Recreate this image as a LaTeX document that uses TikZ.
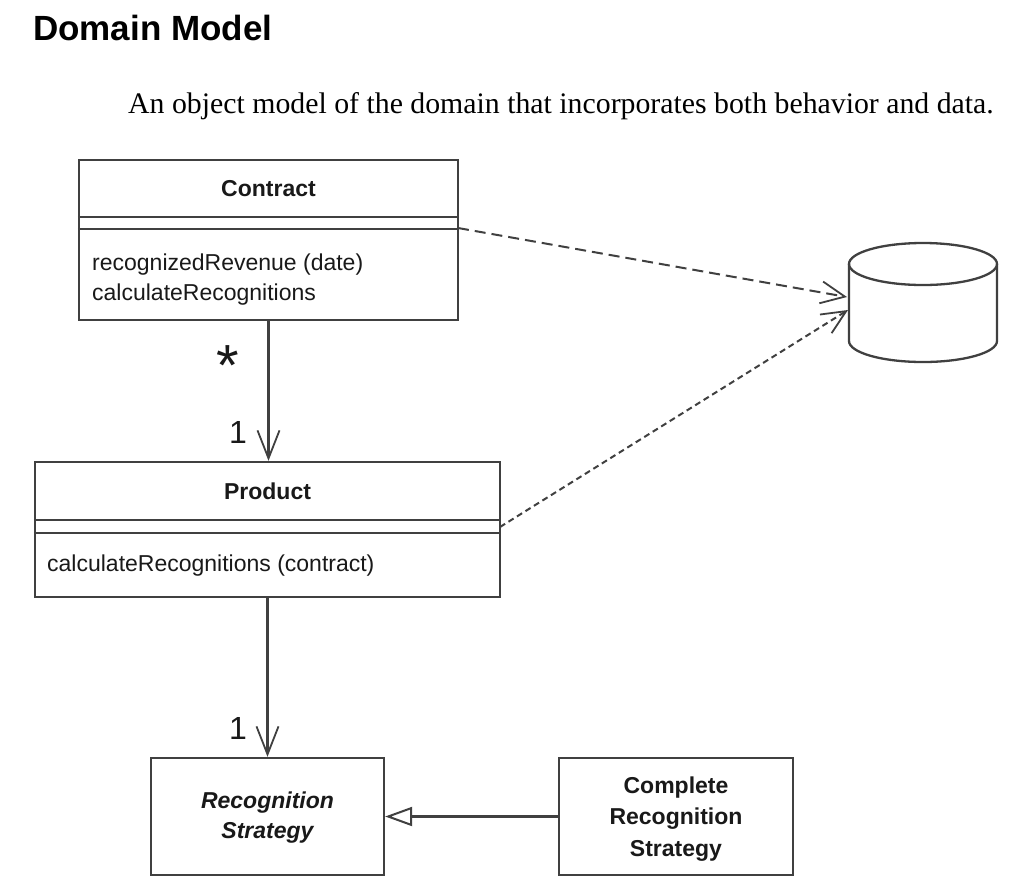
\documentclass[tikz,border=0pt]{standalone}
\usepackage{fontspec}
\setmainfont{Liberation Serif}
\setsansfont{Liberation Sans}
\usetikzlibrary{arrows.meta}
\begin{document}
\begin{tikzpicture}[x=1pt,y=-1pt,
  umlline/.style={draw=black!75,line width=2.3pt},
  classbox/.style={umlline,rectangle,inner sep=0pt,fill=white},
  uml/.style={font=\sffamily\fontsize{23}{26}\selectfont,inner sep=0pt,text=black!90},
  umlbold/.style={uml,font=\sffamily\bfseries\fontsize{23}{26}\selectfont},
  mult/.style={font=\sffamily\fontsize{32}{34}\selectfont,inner sep=0pt,text=black!90},
  navarrow/.style={umlline,-{Straight Barb[length=28pt,width=22pt,line width=1.8pt]}},
  deparrow/.style={draw=black!75,line width=2pt,-{Straight Barb[length=24pt,width=22pt,line width=1.8pt]}},
  genarrow/.style={umlline,-{Triangle[open,length=27pt,width=19pt,line width=2pt]}}
]
\useasboundingbox (0,0) rectangle (1021,895);

% Title and subtitle
\node[anchor=base west,inner sep=0pt,font=\sffamily\bfseries\fontsize{35}{40}\selectfont] (title) at (33,40) {Domain Model};
\node[anchor=base west,inner sep=0pt,font=\fontsize{29.8}{32}\selectfont] (subtitle) at (128,113) {An object model of the domain that incorporates both behavior and data.};

% Contract
\node[classbox,minimum width=379pt,minimum height=160pt] (contract) at (268.5,240) {};
\draw[umlline] (contract.west |- 0,217) -- (contract.east |- 0,217);
\draw[umlline] (contract.west |- 0,229) -- (contract.east |- 0,229);
\node[umlbold,anchor=base] (cname) at (268.5,196) {Contract};
\node[uml,anchor=base west] (cm1) at (92,270) {recognizedRevenue (date)};
\node[uml,anchor=base west] (cm2) at (92,300) {calculateRecognitions};

% Product
\node[classbox,minimum width=465pt,minimum height=135pt] (product) at (267.5,529.5) {};
\draw[umlline] (product.west |- 0,520) -- (product.east |- 0,520);
\draw[umlline] (product.west |- 0,533) -- (product.east |- 0,533);
\node[umlbold,anchor=base] (pname) at (267.5,499) {Product};
\node[uml,anchor=base west] (pm1) at (47,571) {calculateRecognitions (contract)};

% Recognition Strategy
\node[classbox,minimum width=233pt,minimum height=117pt] (rs) at (267.5,816.5) {};
\node[uml,font=\sffamily\bfseries\itshape\fontsize{23}{30}\selectfont,align=center] (rsname) at (267.5,818) {Recognition\\Strategy};

% Complete Recognition Strategy
\node[classbox,minimum width=234pt,minimum height=117pt] (crs) at (676,816.5) {};
\node[umlbold,font=\sffamily\bfseries\fontsize{23}{31.5}\selectfont,align=center] (crsname) at (676,819) {Complete\\Recognition\\Strategy};

% Database cylinder
\draw[umlline,fill=white] (849,264) -- (849,341) arc[start angle=180,end angle=0,x radius=74,y radius=21] -- (997,264);
\draw[umlline] (923,264) ellipse[x radius=74,y radius=21];
\coordinate (db1) at (847,297);
\coordinate (db2) at (848,310);
\coordinate (c1) at (458,228);
\coordinate (p1) at (500,527);

% Connectors
\draw[navarrow] (contract.south) -- (contract.south |- product.north);
\draw[navarrow] (product.south) -- (product.south |- rs.north);
\draw[genarrow] (crs.west) -- (rs.east);
\draw[deparrow,dash pattern=on 11pt off 6pt] (c1) -- (db1);
\draw[deparrow,dash pattern=on 6pt off 4pt] (p1) -- (db2);

% Multiplicities
\node[font=\sffamily\fontsize{58}{58}\selectfont,inner sep=0pt,anchor=base,text=black!90] (star) at (228,385) {*};
\node[mult,anchor=center] (m1) at (238,432) {1};
\node[mult,anchor=center] (m2) at (238,728) {1};
\end{tikzpicture}
\end{document}
